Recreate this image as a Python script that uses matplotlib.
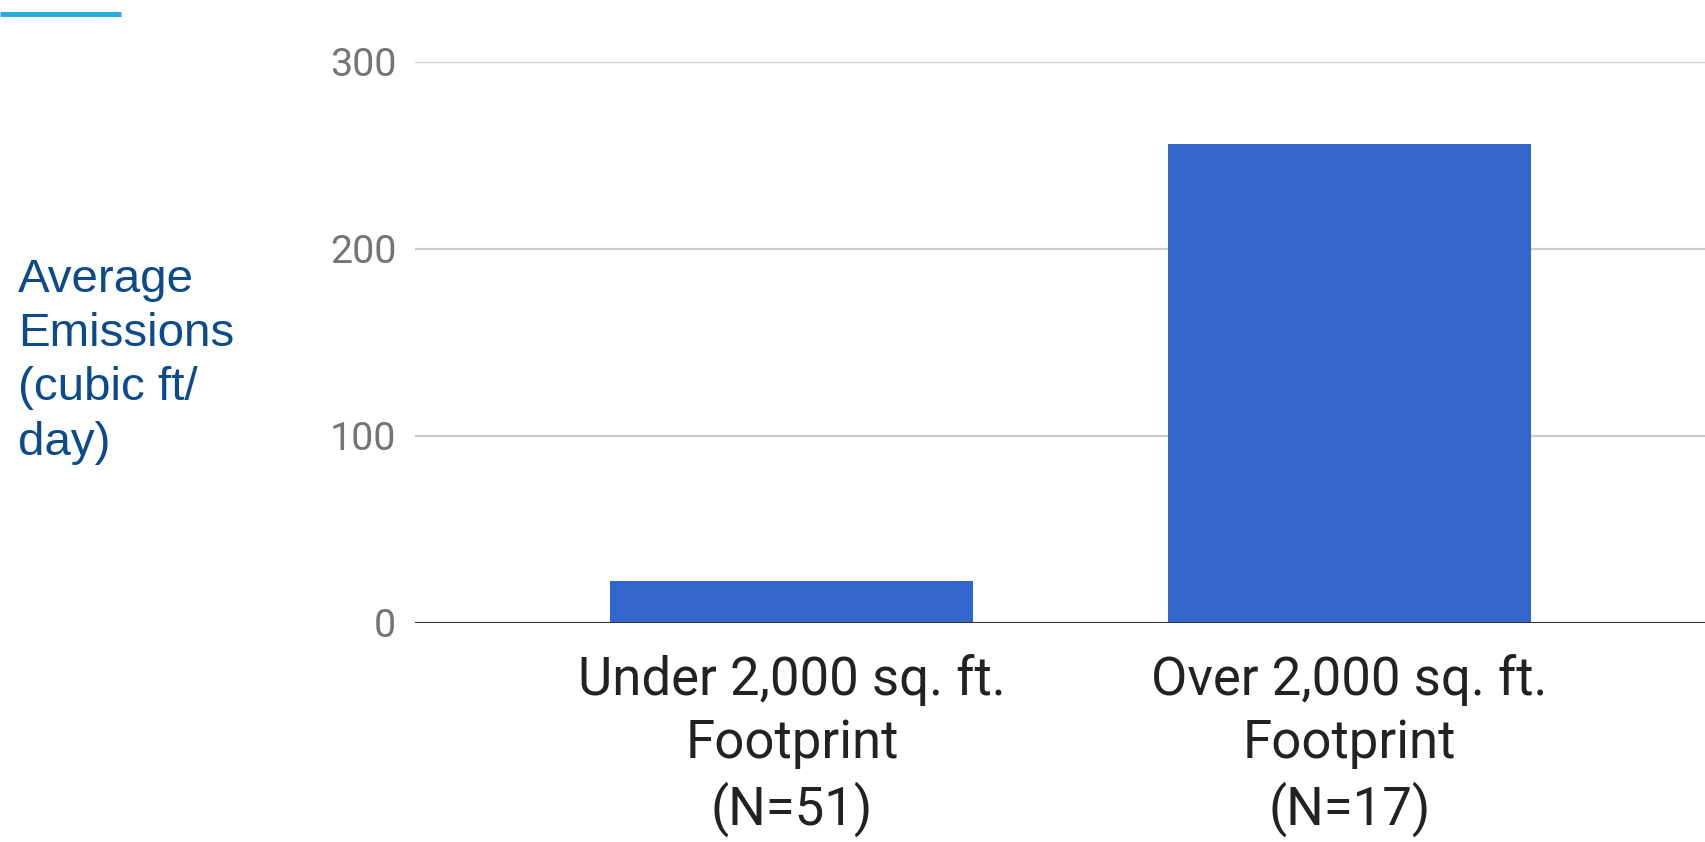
import matplotlib.pyplot as plt
from matplotlib.lines import Line2D

# 平均排放量（立方英尺/天），按建筑占地面积分组
categories = ['Under 2,000 sq. ft.\nFootprint\n(N=51)',
              'Over 2,000 sq. ft.\nFootprint\n(N=17)']
emissions = [22.5, 256]
yticks = [0, 100, 200, 300]

fig = plt.figure(figsize=(17.06, 8.42), dpi=100)
ax = fig.add_axes([0.2433, 0.2601, 0.7567, 0.6663])

x = range(len(categories))
ax.bar(x, emissions, width=0.651, color='#3366cc', zorder=3)

ax.set_xlim(-0.676, 1.64)
ax.set_ylim(0, 300)
ax.set_yticks(yticks)
ax.set_xticks(list(x))
ax.set_xticklabels(categories, fontfamily='Roboto', fontsize=38,
                   color='#222222', linespacing=1.3)
ax.tick_params(axis='x', length=0, pad=22)
ax.tick_params(axis='y', length=0, pad=13.5, labelsize=28.4,
               labelcolor='#757575')
for lab in ax.get_yticklabels():
    lab.set_fontfamily('Roboto')

# 网格线和零基线
ax.grid(axis='y', color='#cccccc', linewidth=1.6, zorder=0)
for s in ax.spines.values():
    s.set_visible(False)
ax.axhline(0, color='#333333', linewidth=2.2, zorder=4)

# 左侧纵轴说明文字
fig.text(18 / 1706, 1 - 258 / 842,
         'Average\nEmissions\n(cubic ft/\nday)',
         fontfamily='Liberation Sans', fontsize=34.2, color='#0b4a8b',
         ha='left', va='top', linespacing=1.3)

# 左上角的装饰短线
fig.add_artist(Line2D([0, 121 / 1706], [1 - 14.3 / 842] * 2,
                      color='#29abe2', linewidth=3.6,
                      solid_capstyle='butt'))

fig.savefig('out.png', dpi=100)
